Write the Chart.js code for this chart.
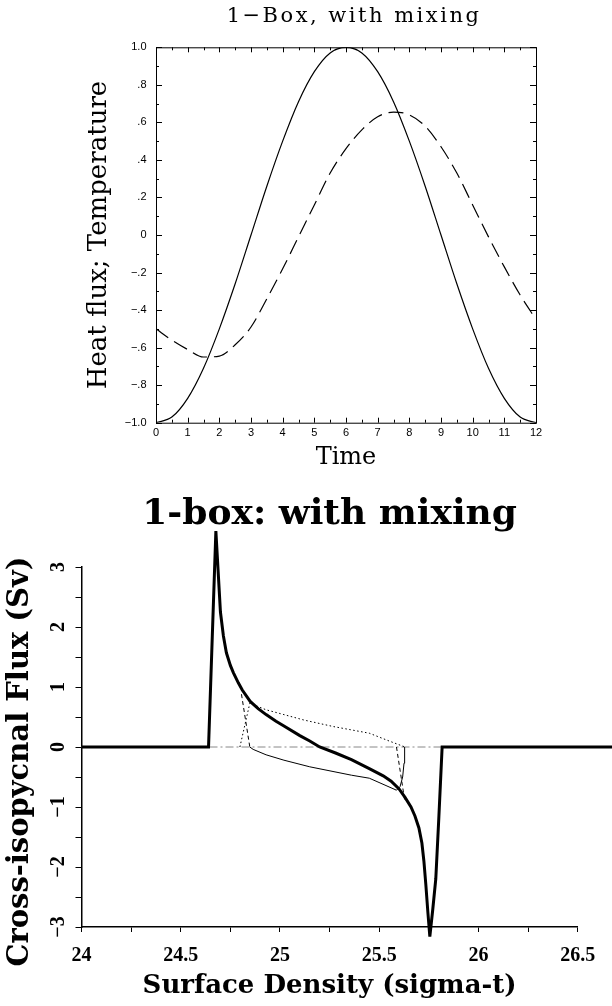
<!DOCTYPE html>
<html>
<head>
<meta charset="utf-8">
<title>1-Box, with mixing</title>
<script src="https://cdn.jsdelivr.net/npm/chart.js@4.4.0/dist/chart.umd.min.js"></script>
<style>
  body { margin: 0; background: #fff; }
  canvas { display: block; }
</style>
</head>
<body>
<canvas id="grafik-atas" width="612" height="480"></canvas>
<canvas id="grafik-bawah" width="612" height="526"></canvas>
<script>
// ---- panel atas: heat flux dan temperature ----
const judulAtas = '1\u2212Box, with mixing';
const waktu = [0, 0.5, 1, 1.5, 2, 2.5, 3, 3.5, 4, 4.5, 5, 5.5, 6, 6.5, 7, 7.5, 8, 8.5, 9, 9.5, 10, 10.5, 11, 11.5, 12];
const heatFlux = [-1, -0.97, -0.87, -0.71, -0.5, -0.26, 0, 0.26, 0.5, 0.71, 0.87, 0.97, 1, 0.97, 0.87, 0.71, 0.5, 0.26, 0, -0.26, -0.5, -0.71, -0.87, -0.97, -1];
const temperatur = [-0.5, -0.56, -0.61, -0.65, -0.645, -0.585, -0.49, -0.34, -0.18, -0.01, 0.16, 0.33, 0.46, 0.56, 0.63, 0.655, 0.64, 0.58, 0.47, 0.33, 0.16, -0.01, -0.17, -0.32, -0.45];
const nilaiYAtas = [-1, -0.8, -0.6, -0.4, -0.2, 0, 0.2, 0.4, 0.6, 0.8, 1];
const labelYAtas = ['\u22121.0', '\u2212.8', '\u2212.6', '\u2212.4', '\u2212.2', '0', '.2', '.4', '.6', '.8', '1.0'];

// ---- panel bawah: cross-isopycnal flux ----
const judulBawah = '1-box: with mixing';
const sigmaTotal = [24.0, 24.64, 24.677, 24.70, 24.715, 24.73, 24.75, 24.765, 24.79, 24.81, 24.85, 24.89, 24.93, 24.98, 25.02, 25.10, 25.15, 25.20, 25.28, 25.36, 25.45, 25.52, 25.56, 25.60, 25.63, 25.66, 25.68, 25.70, 25.715, 25.725, 25.735, 25.745, 25.755, 25.77, 25.785, 25.80, 25.817, 26.7];
const fluxTotal = [0, 0, 3.6, 2.25, 1.85, 1.57, 1.36, 1.24, 1.07, 0.95, 0.76, 0.64, 0.54, 0.43, 0.35, 0.19, 0.1, 0, -0.1, -0.21, -0.36, -0.48, -0.57, -0.7, -0.84, -1.0, -1.15, -1.35, -1.6, -1.9, -2.3, -2.75, -3.16, -2.7, -2.2, -1.2, 0, 0];
const sigmaTipis = [24.848, 24.865, 24.93, 25.02, 25.15, 25.36, 25.45, 25.587, 25.605, 25.618, 25.625, 25.628];
const fluxTipis = [0, -0.04, -0.13, -0.22, -0.33, -0.47, -0.52, -0.72, -0.66, -0.5, -0.27, 0];
const sigmaTitik = [24.798, 24.848, 24.93, 25.02, 25.12, 25.27, 25.45, 25.55, 25.63];
const fluxTitik = [0, 0.73, 0.62, 0.54, 0.45, 0.34, 0.23, 0.10, 0];
const sigmaPutus = [24.806, 24.848, 25.2, 25.587, 25.628];
const fluxPutus = [0.88, 0, null, 0, -0.88];
const sigmaNol = [24, 26.7];
const fluxNol = [0, 0];
const nilaiYBawah = [-3, -2, -1, 0, 1, 2, 3];
const labelYBawah = ['\u22123', '\u22122', '\u22121', '0', '1', '2', '3'];

function pasangan(xs, ys) {
  return xs.map((x, i) => ({ x: x, y: ys[i] }));
}

Chart.defaults.color = '#000';
Chart.defaults.animation = false;

// bingkai kotak dengan tick ke dalam + judul berspasi
const bingkaiAtas = {
  id: 'bingkaiAtas',
  afterDraw(chart) {
    const { ctx, chartArea: a, scales: { x, y } } = chart;
    ctx.save();
    ctx.strokeStyle = '#000';
    ctx.lineWidth = 1;
    ctx.strokeRect(a.left + 0.5, a.top + 0.5, a.right - a.left, a.bottom - a.top);
    ctx.beginPath();
    for (let i = 0; i <= 24; i++) {
      const px = Math.round(x.getPixelForValue(i / 2)) + 0.5;
      const len = i % 2 === 0 ? 5 : 3;
      ctx.moveTo(px, a.bottom); ctx.lineTo(px, a.bottom - len);
      ctx.moveTo(px, a.top); ctx.lineTo(px, a.top + len);
    }
    for (let i = -10; i <= 10; i++) {
      const py = Math.round(y.getPixelForValue(i / 10)) + 0.5;
      const len = i % 2 === 0 ? 6 : 3;
      ctx.moveTo(a.left, py); ctx.lineTo(a.left + len, py);
      ctx.moveTo(a.right, py); ctx.lineTo(a.right - len, py);
    }
    ctx.stroke();
    ctx.fillStyle = '#000';
    ctx.font = '21px "DejaVu Serif"';
    ctx.letterSpacing = '2.5px';
    ctx.textAlign = 'center';
    ctx.textBaseline = 'middle';
    ctx.fillText(judulAtas, (a.left + a.right) / 2 + 8, 17);
    ctx.restore();
  }
};

new Chart(document.getElementById('grafik-atas'), {
  type: 'line',
  data: {
    datasets: [{
      data: pasangan(waktu, heatFlux),
      borderColor: '#000',
      borderWidth: 1.2,
      pointRadius: 0,
      cubicInterpolationMode: 'monotone'
    }, {
      data: pasangan(waktu, temperatur),
      borderColor: '#000',
      borderWidth: 1.2,
      borderDash: [15, 7],
      pointRadius: 0,
      cubicInterpolationMode: 'monotone'
    }]
  },
  options: {
    responsive: false,
    layout: { padding: { left: 0, right: 76, top: 47.3, bottom: 0 } },
    plugins: { legend: { display: false }, tooltip: { enabled: false } },
    scales: {
      x: {
        type: 'linear', min: 0, max: 12,
        grid: { display: false, drawTicks: false },
        border: { display: false },
        ticks: { stepSize: 1, padding: 4, maxRotation: 0, font: { family: 'Liberation Sans', size: 11 } },
        title: { display: true, text: 'Time', font: { family: 'DejaVu Serif', size: 24 }, padding: { top: 0, bottom: 7.5 } },
        afterFit: s => { s.height = 57.3; }
      },
      y: {
        min: -1, max: 1,
        grid: { display: false, drawTicks: false },
        border: { display: false },
        ticks: {
          stepSize: 0.2, padding: 9.5, font: { family: 'Liberation Sans', size: 11 },
          callback: v => {
            const i = nilaiYAtas.findIndex(n => Math.abs(n - v) < 1e-6);
            return i >= 0 ? labelYAtas[i] : '';
          }
        },
        title: { display: true, text: 'Heat flux; Temperature', font: { family: 'DejaVu Serif', size: 26 }, padding: { top: 84, bottom: 0 } },
        afterFit: s => { s.width = 156; }
      }
    }
  },
  plugins: [bingkaiAtas]
});

// label sumbu y yang diputar untuk panel bawah
const labelYPutar = {
  id: 'labelYPutar',
  afterDraw(chart) {
    const { ctx, scales: { y } } = chart;
    ctx.save();
    ctx.fillStyle = '#000';
    ctx.textAlign = 'center';
    ctx.textBaseline = 'middle';
    ctx.font = 'bold 20px "Liberation Serif"';
    nilaiYBawah.forEach((v, i) => {
      ctx.save();
      ctx.translate(59.3, y.getPixelForValue(v));
      ctx.rotate(-Math.PI / 2);
      ctx.fillText(labelYBawah[i], 0, 0);
      ctx.restore();
    });
    ctx.font = 'bold 29px "DejaVu Serif"';
    ctx.translate(20.5, (y.top + y.bottom) / 2 + 14.5);
    ctx.rotate(-Math.PI / 2);
    ctx.fillText('Cross-isopycnal Flux (Sv)', 0, 0);
    ctx.restore();
  }
};

new Chart(document.getElementById('grafik-bawah'), {
  type: 'line',
  data: {
    datasets: [{
      data: pasangan(sigmaTotal, fluxTotal),
      borderColor: '#000',
      borderWidth: 3,
      pointRadius: 0,
      tension: 0,
      clip: false
    }, {
      data: pasangan(sigmaTipis, fluxTipis),
      borderColor: '#000',
      borderWidth: 1,
      pointRadius: 0,
      tension: 0,
      clip: false
    }, {
      data: pasangan(sigmaTitik, fluxTitik),
      borderColor: '#000',
      borderWidth: 1,
      borderDash: [1.5, 2.5],
      pointRadius: 0,
      tension: 0,
      clip: false
    }, {
      data: pasangan(sigmaPutus, fluxPutus),
      borderColor: '#000',
      borderWidth: 1,
      borderDash: [4, 3],
      pointRadius: 0,
      tension: 0,
      clip: false
    }, {
      data: pasangan(sigmaNol, fluxNol),
      borderColor: '#888',
      borderWidth: 1,
      borderDash: [8, 3, 2, 3],
      pointRadius: 0,
      clip: false
    }]
  },
  options: {
    responsive: false,
    layout: { padding: { left: 0, right: 34.3, top: 0, bottom: 0 } },
    plugins: {
      legend: { display: false },
      tooltip: { enabled: false },
      title: {
        display: true, text: judulBawah, fullSize: false,
        font: { family: 'DejaVu Serif', size: 36, weight: 'bold' },
        padding: { top: 13, bottom: 30.8 }
      }
    },
    scales: {
      x: {
        type: 'linear', min: 24, max: 26.5,
        grid: { drawOnChartArea: false, drawTicks: true, tickLength: 5, color: '#000' },
        border: { display: true, color: '#000', width: 1.5 },
        ticks: {
          stepSize: 0.25, padding: 11.8, maxRotation: 0, autoSkip: false,
          font: { family: 'Liberation Serif', size: 20, weight: 'bold' },
          callback: v => (Math.abs(v * 2 - Math.round(v * 2)) < 1e-6 ? String(v) : '')
        },
        title: { display: true, text: 'Surface Density (sigma-t)', font: { family: 'DejaVu Serif', size: 26, weight: 'bold' }, padding: { top: 0, bottom: 4 } },
        afterFit: s => { s.height = 79; }
      },
      y: {
        min: -3, max: 3,
        grid: { drawOnChartArea: false, drawTicks: true, tickLength: 6, color: '#000' },
        border: { display: true, color: '#000', width: 1.5 },
        ticks: { stepSize: 0.5, display: false },
        afterFit: s => { s.width = 81.5; }
      }
    }
  },
  plugins: [labelYPutar]
});
</script>
</body>
</html>
